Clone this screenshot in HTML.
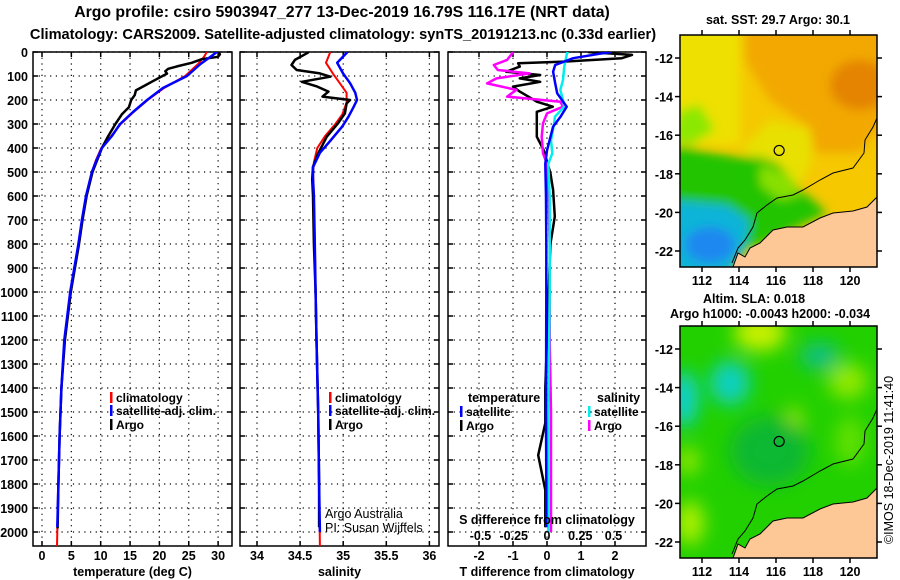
<!DOCTYPE html>
<html><head><meta charset="utf-8">
<style>
html,body{margin:0;padding:0;background:#fff;}
svg{display:block;font-family:"Liberation Sans",sans-serif;}
.t{font-weight:bold;font-size:14.6px;}
.k{font-weight:bold;font-size:12.5px;}
</style></head>
<body>
<svg id="c" width="900" height="580" viewBox="0 0 900 580" xmlns="http://www.w3.org/2000/svg">
<defs>
<clipPath id="cp1"><rect x="33" y="52" width="199" height="494"/></clipPath>
<clipPath id="cp2"><rect x="240" y="52" width="199" height="494"/></clipPath>
<clipPath id="cp3"><rect x="448" y="52" width="198" height="494"/></clipPath>
<clipPath id="cpm"><rect x="680" y="35" width="197" height="232"/></clipPath>
<filter id="bl" x="-20%" y="-20%" width="140%" height="140%"><feGaussianBlur stdDeviation="5"/></filter>
<filter id="bl2" x="-30%" y="-30%" width="160%" height="160%"><feGaussianBlur stdDeviation="9"/></filter>
</defs>
<text class="t" x="342" y="17" text-anchor="middle" style="font-size:15.8px">Argo profile: csiro 5903947_277 13-Dec-2019 16.79S 116.17E (NRT data)</text>
<text class="t" x="343" y="39" text-anchor="middle">Climatology: CARS2009. Satellite-adjusted climatology: synTS_20191213.nc (0.33d earlier)</text>
<g id="plots"></g>
<g id="maps"></g>
</svg>
<script>
// ---------- data ----------
const depthTicks=[0,100,200,300,400,500,600,700,800,900,1000,1100,1200,1300,1400,1500,1600,1700,1800,1900,2000];
const tempTicks=[0,5,10,15,20,25,30];
const salTicks=[34,34.5,35,35.5,36];
const tdiffTicks=[-2,-1,0,1,2];
const sdiffTicks=[-0.5,-0.25,0,0.25,0.5];
const sdiffLabels=["-0.5","-0.25","0","0.25","0.5"];

const tClimDepth=[0,20,50,100,150,200,250,300,350,400,450,500,600,700,800,1000,1200,1400,1600,1800,2000,2060];
const tClim=[28.1,27.6,26.6,24.4,20.8,18.0,15.6,13.4,11.8,10.1,9.2,8.5,7.5,6.8,6.2,4.9,3.9,3.3,3.0,2.8,2.6,2.55];
const tSatDepth=[0,20,50,100,150,200,250,300,350,400,450,500,600,700,800,1000,1200,1400,1600,1800,1980];
const tSat=[29.8,28.7,27.0,24.7,20.6,17.9,15.5,13.3,11.9,10.2,9.3,8.5,7.5,6.8,6.2,4.8,3.8,3.3,3.0,2.8,2.6];
const tArgoDepth=[0,10,20,30,45,60,70,80,90,120,140,160,180,200,230,260,300,350,400,500,600,700,800,1000,1200,1400,1600,1800,1985];
const tArgo=[30.1,30.3,30.0,27.2,25.5,23.0,21.5,21.0,21.3,19.0,17.5,16.0,15.8,15.2,14.8,13.6,12.5,11.3,10.2,8.6,7.6,6.9,6.3,4.9,3.9,3.3,3.0,2.8,2.65];

const sClimDepth=[0,45,90,130,170,210,260,300,350,400,460,500,600,800,1000,1200,1500,1800,2060];
const sClim=[34.85,34.8,34.88,34.96,35.04,35.04,34.99,34.91,34.79,34.7,34.66,34.65,34.66,34.67,34.68,34.69,34.71,34.72,34.73];
const sSatDepth=[0,45,90,130,170,200,230,270,310,370,420,480,530,600,800,1000,1200,1500,1800,2000];
const sSat=[35.05,34.93,35.0,35.08,35.14,35.16,35.12,35.06,34.99,34.85,34.73,34.65,34.65,34.66,34.67,34.68,34.69,34.71,34.72,34.73];
const sArgoDepth=[0,5,33,54,75,89,103,124,144,165,186,200,214,256,297,353,422,478,530,600,800,1000,1200,1500,1800,1980];
const sArgo=[34.6,34.58,34.44,34.4,34.46,34.73,34.85,34.52,34.7,34.83,34.76,35.08,35.04,35.02,34.94,34.81,34.71,34.65,34.64,34.65,34.66,34.68,34.69,34.71,34.72,34.72];

const dTArgoDepth=[0,12,26,40,47,61,82,96,110,124,144,165,190,207,228,249,283,353,408,505,575,686,800,1000,1200,1400,1546,1680,1825,1980];
const dTArgo=[1.2,2.5,2.2,0.5,-0.85,-0.8,-1.2,-0.2,-0.8,-0.2,-1.0,-0.8,-0.5,-0.3,0.17,-0.3,-0.3,-0.3,-0.1,0.1,0.18,0.23,0.1,0.05,0.0,-0.05,-0.05,-0.26,-0.05,-0.05];
const dTSatDepth=[0,5,26,54,82,131,172,228,269,311,410,466,600,800,1000,1500,1800,1980];
const dTSat=[1.9,1.65,0.77,0.24,0.18,0.24,0.3,0.58,0.4,0.18,0.0,-0.05,-0.03,-0.02,-0.02,-0.03,-0.02,-0.02];
const dSArgoDepth=[0,5,33,54,75,89,110,131,158,186,207,228,256,297,353,422,466,600,800,1000,1200,1500,1800,2000];
const dSArgo=[-0.26,-0.26,-0.3,-0.4,-0.37,-0.13,-0.38,-0.45,-0.23,-0.3,0.1,0.12,0.0,-0.03,-0.04,-0.03,0.0,0.01,0.02,0.02,0.02,0.03,0.03,0.03];
const dSSatDepth=[0,5,33,61,117,158,200,228,269,311,367,422,466,600,1000,1500,1800,2000];
const dSSat=[0.16,0.15,0.14,0.13,0.12,0.1,0.12,0.13,0.06,0.05,0.03,0.04,0.01,0.02,0.02,0.01,0.01,0.01];

// ---------- axes ----------
const Y=d=>52+d*0.24;
const XT=v=>42+v*5.87;
const XS=v=>257+(v-34)*86.2;
const XD=v=>547+v*34;
const XSD=v=>547+v*133;
const NS="http://www.w3.org/2000/svg";
const plots=document.getElementById('plots');
function el(tag,attrs,parent){const e=document.createElementNS(NS,tag);for(const k in attrs)e.setAttribute(k,attrs[k]);(parent||plots).appendChild(e);return e;}

const panels=[
 {x0:33,x1:232,clip:'cp1',xf:XT,ticks:tempTicks,labels:tempTicks.map(String),xlabel:'temperature (deg C)',name:'temperature-panel'},
 {x0:240,x1:439,clip:'cp2',xf:XS,ticks:salTicks,labels:salTicks.map(String),xlabel:'salinity',name:'salinity-panel'},
 {x0:448,x1:646,clip:'cp3',xf:XD,ticks:tdiffTicks,labels:tdiffTicks.map(String),xlabel:'T difference from climatology',name:'difference-panel'}
];
panels.forEach((p,pi)=>{
 const g=el('g',{});
 
 
 depthTicks.forEach(d=>{
  const l=el('line',{x1:p.x0,x2:p.x1,y1:Y(d),y2:Y(d),stroke:'#000','stroke-width':1.2,'stroke-dasharray':'1.2 4.5'},g);
  
  
  el('line',{x1:p.x0,x2:p.x0+5,y1:Y(d),y2:Y(d),stroke:'#000','stroke-width':1.5},g);
  el('line',{x1:p.x1-5,x2:p.x1,y1:Y(d),y2:Y(d),stroke:'#000','stroke-width':1.5},g);
 });
 p.ticks.forEach((v,i)=>{
  const x=p.xf(v);
  const l=el('line',{x1:x,x2:x,y1:52,y2:546,stroke:'#000','stroke-width':1.2,'stroke-dasharray':'1.2 4.5'},g);
  
  
  el('line',{x1:x,x2:x,y1:52,y2:57,stroke:'#000','stroke-width':1.5},g);
  el('line',{x1:x,x2:x,y1:541,y2:546,stroke:'#000','stroke-width':1.5},g);
  const t=el('text',{x:x,y:560,'text-anchor':'middle',class:'k'},g);
  t.textContent=p.labels[i];
  
  
 });
 const xl=el('text',{x:(p.x0+p.x1)/2,y:576,'text-anchor':'middle',class:'k'},g);
 xl.textContent=p.xlabel;
 
 
 const fr=el('rect',{x:p.x0,y:52,width:p.x1-p.x0,height:494,fill:'none',stroke:'#000','stroke-width':1.5},g);
 
 
});
depthTicks.forEach(d=>{
 const t=el('text',{x:28,y:Y(d)+5,'text-anchor':'end',class:'k'});
 t.textContent=String(d);
 
 
});

function series(depths,vals,xf,color,w,clip,name){
 const pts=depths.map((d,i)=>xf(vals[i]).toFixed(1)+','+Y(d).toFixed(1)).join(' ');
 const l=el('polyline',{points:pts,fill:'none',stroke:color,'stroke-width':w,'stroke-linejoin':'round','clip-path':'url(#'+clip+')'});
 
 
}
series(tClimDepth,tClim,XT,'#f00',2,'cp1','temperature-climatology-line');
series(tArgoDepth,tArgo,XT,'#000',2.5,'cp1','temperature-argo-line');
series(tSatDepth,tSat,XT,'#00f',2.5,'cp1','temperature-satellite-line');
series(sClimDepth,sClim,XS,'#f00',2,'cp2','salinity-climatology-line');
series(sArgoDepth,sArgo,XS,'#000',2.5,'cp2','salinity-argo-line');
series(sSatDepth,sSat,XS,'#00f',2.5,'cp2','salinity-satellite-line');
series(dTArgoDepth,dTArgo,XD,'#000',2.5,'cp3','t-diff-argo-line');
series(dSArgoDepth,dSArgo,XSD,'#f0f',2.5,'cp3','s-diff-argo-line');
series(dSSatDepth,dSSat,XSD,'#0ee',2.5,'cp3','s-diff-satellite-line');
series(dTSatDepth,dTSat,XD,'#00f',2.5,'cp3','t-diff-satellite-line');

function legend(x,y,color,label,name){
 const g=el('g',{});
 
 
 el('rect',{x:x,y:y-10,width:2.5,height:11,fill:color},g);
 const t=el('text',{x:x+6,y:y,class:'k','font-size':'12px',style:'font-size:12px'},g);t.textContent=label;
}
legend(110,402,'#f00','climatology','legend-climatology');
legend(110,415,'#00f','satellite-adj. clim.','legend-satellite-adj');
legend(110,429,'#000','Argo','legend-argo');
legend(329,402,'#f00','climatology','legend-climatology-sal');
legend(329,415,'#00f','satellite-adj. clim.','legend-satellite-adj-sal');
legend(329,429,'#000','Argo','legend-argo-sal');
let tt=el('text',{x:468,y:402,class:'k'});tt.textContent='temperature';


tt=el('text',{x:597,y:402,class:'k'});tt.textContent='salinity';


legend(460,416,'#00f','satellite','legend-t-satellite');
legend(460,430,'#000','Argo','legend-t-argo');
legend(588,416,'#0ee','satellite','legend-s-satellite');
legend(588,430,'#f0f','Argo','legend-s-argo');
tt=el('text',{x:325,y:518,'font-size':12.5});tt.textContent='Argo Australia';


tt=el('text',{x:325,y:532,'font-size':12.5});tt.textContent='PI: Susan Wijffels';


tt=el('text',{x:547,y:524,'text-anchor':'middle',class:'k'});tt.textContent='S difference from climatology';


sdiffTicks.forEach((v,i)=>{
 const t=el('text',{x:XSD(v),y:540,'text-anchor':'middle',class:'k'});
 t.textContent=sdiffLabels[i];
 
 
});

// ---------- maps ----------
const maps=document.getElementById('maps');
const MX=lon=>702+(lon-112)*18.5;
const MY=lat=>58+(-12-lat)*19.3;
const lonTicks=[112,114,116,118,120];
const latTicks=[-12,-14,-16,-18,-20,-22];
const coast="877,197 867,207 853,211 833,213 820,218 803,227 787,227 773,230 760,243 750,248 745,257 738,253 733,267 877,267";
const contour="877,118 873,127 865,140 864,153 853,168 833,173 820,180 803,190 793,195 777,198 767,205 757,213 753,227 745,240 738,248 732,263";
function mapFrame(g,off){
 lonTicks.forEach(v=>{
  el('line',{x1:MX(v),x2:MX(v),y1:off+30,y2:off+35,stroke:'#000','stroke-width':1.5},g);
  el('line',{x1:MX(v),x2:MX(v),y1:off+267,y2:off+272,stroke:'#000','stroke-width':1.5},g);
  const t=el('text',{x:MX(v),y:off+285,'text-anchor':'middle',class:'k'},g);t.textContent=String(v);
  
  
 });
 latTicks.forEach(v=>{
  el('line',{x1:675,x2:680,y1:off+MY(v),y2:off+MY(v),stroke:'#000','stroke-width':1.5},g);
  el('line',{x1:877,x2:882,y1:off+MY(v),y2:off+MY(v),stroke:'#000','stroke-width':1.5},g);
  const t=el('text',{x:673,y:off+MY(v)+5,'text-anchor':'end',class:'k'},g);t.textContent=String(v);
  
  
 });
 el('rect',{x:680,y:off+35,width:197,height:232,fill:'none',stroke:'#000','stroke-width':1.5},g);
}
// SST map
const m1=el('g',{},maps);


const c1=el('g',{'clip-path':'url(#cpm)'},m1);
el('rect',{x:680,y:35,width:197,height:232,fill:'#f5c800'},c1);
const b1=el('g',{filter:'url(#bl)'},c1);
el('rect',{x:670,y:25,width:70,height:120,fill:'#eee000'},b1);
el('polygon',{points:"745,25 890,25 890,120 877,130 860,153 815,153 810,127 770,100 745,60",fill:'#f2a800'},b1);
el('ellipse',{cx:860,cy:85,rx:30,ry:25,fill:'#e48400'},b1);
el('polygon',{points:"770,120 810,130 812,160 800,185 770,165 740,150",fill:'#e8e000'},b1);
el('polygon',{points:"670,145 737,157 760,157 777,163 787,173 800,190 813,200 827,213 760,245 670,260",fill:'#20c400'},b1);
el('polygon',{points:"680,110 700,105 715,130 690,145 670,140",fill:'#8ce800'},b1);
el('polygon',{points:"670,200 727,205 750,220 745,250 730,275 670,275",fill:'#10b4d8'},b1);
el('ellipse',{cx:710,cy:245,rx:25,ry:18,fill:'#1e88f0'},b1);
el('polygon',{points:"760,165 790,175 800,195 780,200 760,185",fill:'#88e000'},b1);
el('polygon',{points:coast,fill:'#fdc896',stroke:'#000','stroke-width':1},c1);
el('polyline',{points:contour,fill:'none',stroke:'#000','stroke-width':1},c1);
const cir=el('circle',{cx:MX(116.17),cy:MY(-16.79),r:5,fill:'none',stroke:'#000','stroke-width':1.2},m1);


mapFrame(m1,0);
let mt=el('text',{x:778,y:24,'text-anchor':'middle',class:'k'},m1);mt.textContent='sat. SST: 29.7 Argo: 30.1';



// SLA map
const m2=el('g',{transform:'translate(0,291)'},maps);


const c2=el('g',{'clip-path':'url(#cpm)'},m2);
el('rect',{x:680,y:35,width:197,height:232,fill:'#22d000'},c2);
const b2=el('g',{filter:'url(#bl2)'},c2);
el('ellipse',{cx:760,cy:42,rx:26,ry:18,fill:'#c8f000'},b2);
el('ellipse',{cx:730,cy:92,rx:20,ry:22,fill:'#10d0c0'},b2);
el('ellipse',{cx:684,cy:108,rx:14,ry:28,fill:'#10d0d0'},b2);
el('ellipse',{cx:820,cy:65,rx:20,ry:14,fill:'#10c080'},b2);
el('ellipse',{cx:848,cy:90,rx:20,ry:18,fill:'#90e800'},b2);
el('ellipse',{cx:794,cy:135,rx:9,ry:20,fill:'#a0e800'},b2);
el('ellipse',{cx:690,cy:232,rx:14,ry:22,fill:'#b0f000'},b2);
el('ellipse',{cx:688,cy:170,rx:12,ry:14,fill:'#90e800'},b2);
el('ellipse',{cx:770,cy:160,rx:40,ry:35,fill:'#10b830'},b2);
el('ellipse',{cx:850,cy:150,rx:15,ry:25,fill:'#60e000'},b2);
el('polygon',{points:coast,fill:'#fdc896',stroke:'#000','stroke-width':1},c2);
el('polyline',{points:contour,fill:'none',stroke:'#000','stroke-width':1},c2);
const cir2=el('circle',{cx:MX(116.17),cy:MY(-16.79),r:5,fill:'none',stroke:'#000','stroke-width':1.2},m2);


mapFrame(m2,0);
mt=el('text',{x:754,y:303,'text-anchor':'middle',class:'k'},maps);mt.textContent='Altim. SLA: 0.018';


mt=el('text',{x:770,y:318,'text-anchor':'middle',class:'k'},maps);mt.textContent='Argo h1000: -0.0043 h2000: -0.034';


mt=el('text',{x:0,y:0,'text-anchor':'middle','font-size':12.5,transform:'translate(893,460) rotate(-90)'},maps);mt.textContent='©IMOS 18-Dec-2019 11:41:40';


</script>
</body></html>
